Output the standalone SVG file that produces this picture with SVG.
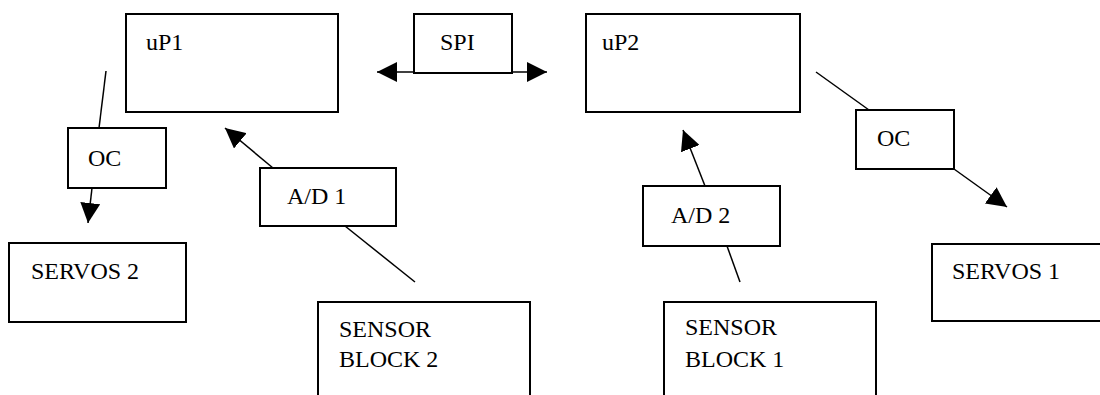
<svg xmlns="http://www.w3.org/2000/svg" width="1100" height="395" viewBox="0 0 1100 395">
<defs>
<style>
.box{fill:#fff;stroke:#000;stroke-width:2}
.ln{fill:none;stroke:#000;stroke-width:1.5}
.t{font-family:'Liberation Serif','Times New Roman',serif;font-size:24px;fill:#000}
</style>
<marker id="ah" viewBox="0 0 20 20" refX="20" refY="10" markerWidth="20" markerHeight="20" markerUnits="userSpaceOnUse" orient="auto">
<path d="M0,0 L20,10 L0,20 Z" fill="#000"/>
</marker>
</defs>
<g id="connectors">
<line class="ln" x1="106" y1="71" x2="99" y2="128"/>
<line class="ln" x1="92" y1="188" x2="88" y2="223" marker-end="url(#ah)"/>
<line class="ln" x1="273" y1="168" x2="225" y2="128" marker-end="url(#ah)"/>
<line class="ln" x1="345" y1="226" x2="415" y2="282"/>
<line class="ln" x1="414" y1="72" x2="377" y2="72" marker-end="url(#ah)"/>
<line class="ln" x1="512" y1="72" x2="547" y2="72" marker-end="url(#ah)"/>
<line class="ln" x1="705" y1="186" x2="683" y2="130" marker-end="url(#ah)"/>
<line class="ln" x1="727" y1="246" x2="740" y2="282"/>
<line class="ln" x1="816" y1="72" x2="869" y2="110"/>
<line class="ln" x1="954" y1="169" x2="1007" y2="207" marker-end="url(#ah)"/>
</g>
<g id="uP1"><rect class="box" x="126" y="14" width="212" height="98"/><text class="t" x="146" y="50">uP1</text></g>
<g id="SPI"><rect class="box" x="414" y="14" width="98" height="59"/><text class="t" x="440" y="50">SPI</text></g>
<g id="uP2"><rect class="box" x="586" y="14" width="214" height="98"/><text class="t" x="602" y="50">uP2</text></g>
<g id="OC1"><rect class="box" x="68" y="128" width="98" height="60"/><text class="t" x="88" y="166">OC</text></g>
<g id="OC2"><rect class="box" x="856" y="110" width="98" height="59"/><text class="t" x="877" y="146">OC</text></g>
<g id="AD1"><rect class="box" x="260" y="168" width="136" height="58"/><text class="t" x="287" y="204">A/D 1</text></g>
<g id="AD2"><rect class="box" x="643" y="186" width="137" height="60"/><text class="t" x="671" y="223">A/D 2</text></g>
<g id="SERVOS2"><rect class="box" x="9" y="243" width="177" height="79"/><text class="t" x="31" y="279">SERVOS 2</text></g>
<g id="SERVOS1"><rect class="box" x="932" y="244" width="200" height="77"/><text class="t" x="952" y="279">SERVOS 1</text></g>
<g id="SENSOR2"><rect class="box" x="318" y="302" width="212" height="120"/><text class="t" x="339" y="337">SENSOR</text><text class="t" x="339" y="367">BLOCK 2</text></g>
<g id="SENSOR1"><rect class="box" x="664" y="302" width="212" height="120"/><text class="t" x="685" y="335">SENSOR</text><text class="t" x="685" y="367">BLOCK 1</text></g>
</svg>
